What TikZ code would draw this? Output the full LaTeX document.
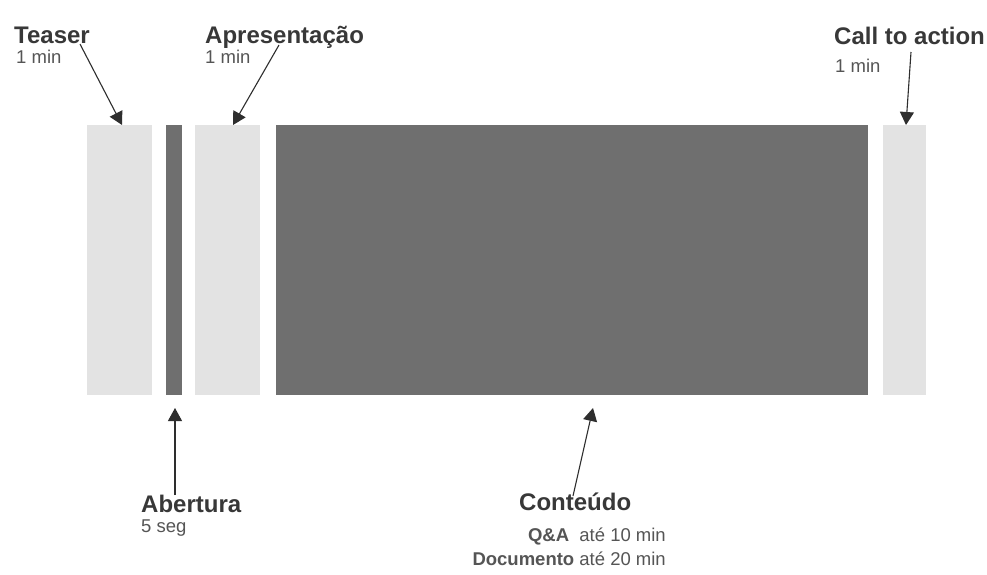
\documentclass[tikz,border=0pt]{standalone}
\usepackage{fontspec}
\setmainfont{Liberation Sans}
\usetikzlibrary{arrows.meta}
\definecolor{barlight}{HTML}{E3E3E3}
\definecolor{bardark}{HTML}{6F6F6F}
\definecolor{titlec}{HTML}{383838}
\definecolor{subc}{HTML}{555555}
\definecolor{arrc}{HTML}{2E2E2E}
\begin{document}
\begin{tikzpicture}[x=1pt,y=-1pt,
  bar/.style={draw=none,inner sep=0,outer sep=0,minimum height=270pt,anchor=north west},
  title/.style={inner sep=0,anchor=base west,text=titlec,font=\fontsize{24}{24}\selectfont\bfseries},
  sub/.style={inner sep=0,anchor=base west,text=subc,font=\fontsize{18.5}{18.5}\selectfont},
  arr/.style={draw=arrc,line width=1.1pt,-{Triangle[length=13pt,width=14pt]}}]
\useasboundingbox (0,0) rectangle (987,574);
\fill[white] (0,0) rectangle (987,574);
% bars
\node[bar,fill=barlight,minimum width=65pt] (teaser) at (87,125) {};
\node[bar,fill=bardark,minimum width=16pt] (abertura) at (166,125) {};
\node[bar,fill=barlight,minimum width=65pt] (apres) at (195,125) {};
\node[bar,fill=bardark,minimum width=592pt] (conteudo) at (276,125) {};
\node[bar,fill=barlight,minimum width=43pt] (cta) at (883,125) {};
% labels
\node[title] (lteaser) at (14,43) {Teaser};
\node[sub] (steaser) at (16,63) {1 min};
\node[title] (lapres) at (205,43) {Apresentação};
\node[sub] (sapres) at (205,63) {1 min};
\node[title] (lcta) at (834,44) {Call to action};
\node[sub] (scta) at (835,72) {1 min};
\node[title] (laber) at (141,512) {Abertura};
\node[sub] (saber) at (141,532) {5 seg};
\node[title] (lcont) at (519,510) {Conteúdo};
\node[sub,anchor=base east] (qa) at (666,541) {\textbf{Q\&A}\ \ até 10 min};
\node[sub,anchor=base east] (doc) at (666,565) {\textbf{Documento} até 20 min};
% arrow ends
\coordinate (t1) at (80,44);   \coordinate (t2) at (122,125);
\coordinate (a1) at (279,45);  \coordinate (a2) at (233,125);
\coordinate (c1) at (911,52);  \coordinate (c2) at (906,125);
\coordinate (b1) at (175,495); \coordinate (b2) at (175,408);
\coordinate (d1) at (573,496); \coordinate (d2) at (593,408);
\draw[arr] (t1) -- (t2);
\draw[arr] (a1) -- (a2);
\draw[arr] (c1) -- (c2);
\draw[arr] (b1) -- (b2);
\draw[arr] (d1) -- (d2);
\end{tikzpicture}
\end{document}
